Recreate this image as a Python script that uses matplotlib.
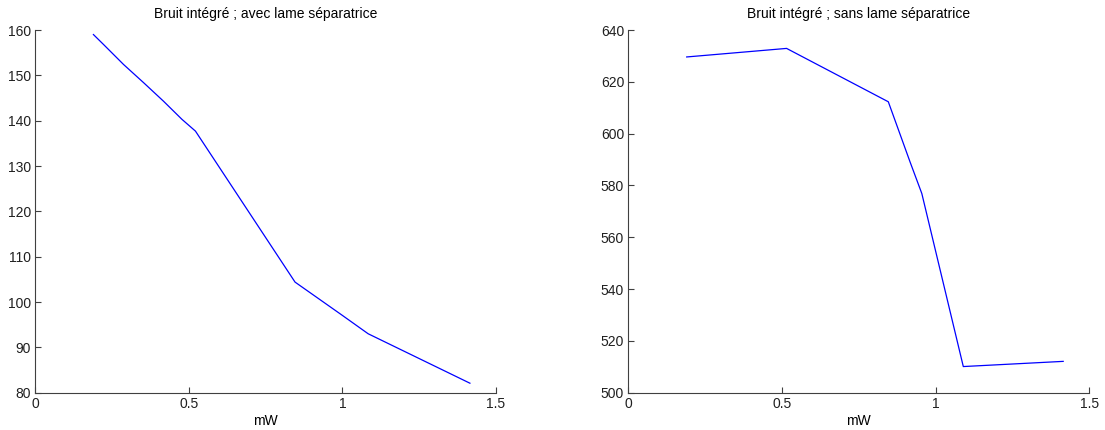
import matplotlib.pyplot as plt

# Bruit intégré, avec lame séparatrice
x_avec = [0.19, 0.223, 0.288, 0.353, 0.418, 0.478, 0.522, 0.846, 0.997, 1.084, 1.415]
y_avec = [159.0, 156.8, 152.4, 148.4, 144.3, 140.3, 137.7, 104.4, 97.2, 93.0, 82.1]

# Bruit intégré, sans lame séparatrice
x_sans = [0.19, 0.515, 0.846, 0.917, 0.955, 1.09, 1.415]
y_sans = [629.6, 632.9, 612.3, 589.0, 576.9, 510.1, 512.1]

plt.rcParams['font.family'] = ['Liberation Sans', 'DejaVu Sans']
plt.rcParams['font.size'] = 10

fig = plt.figure(figsize=(11.05, 4.3), dpi=100)
ax1 = fig.add_axes([0.0317, 0.0867, 0.4172, 0.8435])
ax2 = fig.add_axes([0.5686, 0.0867, 0.4172, 0.8435])

panels = [
    (ax1, x_avec, y_avec, 'Bruit intégré ; avec lame séparatrice', (80, 160), range(80, 161, 10)),
    (ax2, x_sans, y_sans, 'Bruit intégré ; sans lame séparatrice', (500, 640), range(500, 641, 20)),
]

for ax, xs, ys, title, ylim, yticks in panels:
    ax.plot(xs, ys, color='#0000ff', linewidth=0.9)
    ax.set_xlim(0, 1.5)
    ax.set_ylim(*ylim)
    ax.set_xticks([0, 0.5, 1, 1.5])
    ax.set_xticklabels(['0', '0.5', '1', '1.5'])
    ax.set_yticks(list(yticks))
    ax.spines['top'].set_visible(False)
    ax.spines['right'].set_visible(False)
    for s in ('left', 'bottom'):
        ax.spines[s].set_color('#404040')
        ax.spines[s].set_linewidth(0.8)
    ax.tick_params(direction='in', length=4, width=0.8, color='#404040',
                   labelcolor='#202020', labelsize=10, pad=3)
    ax.set_title(title, fontsize=10, pad=9)
    ax.set_xlabel('mW', fontsize=10, labelpad=2)

fig.savefig('out.png', dpi=100)
